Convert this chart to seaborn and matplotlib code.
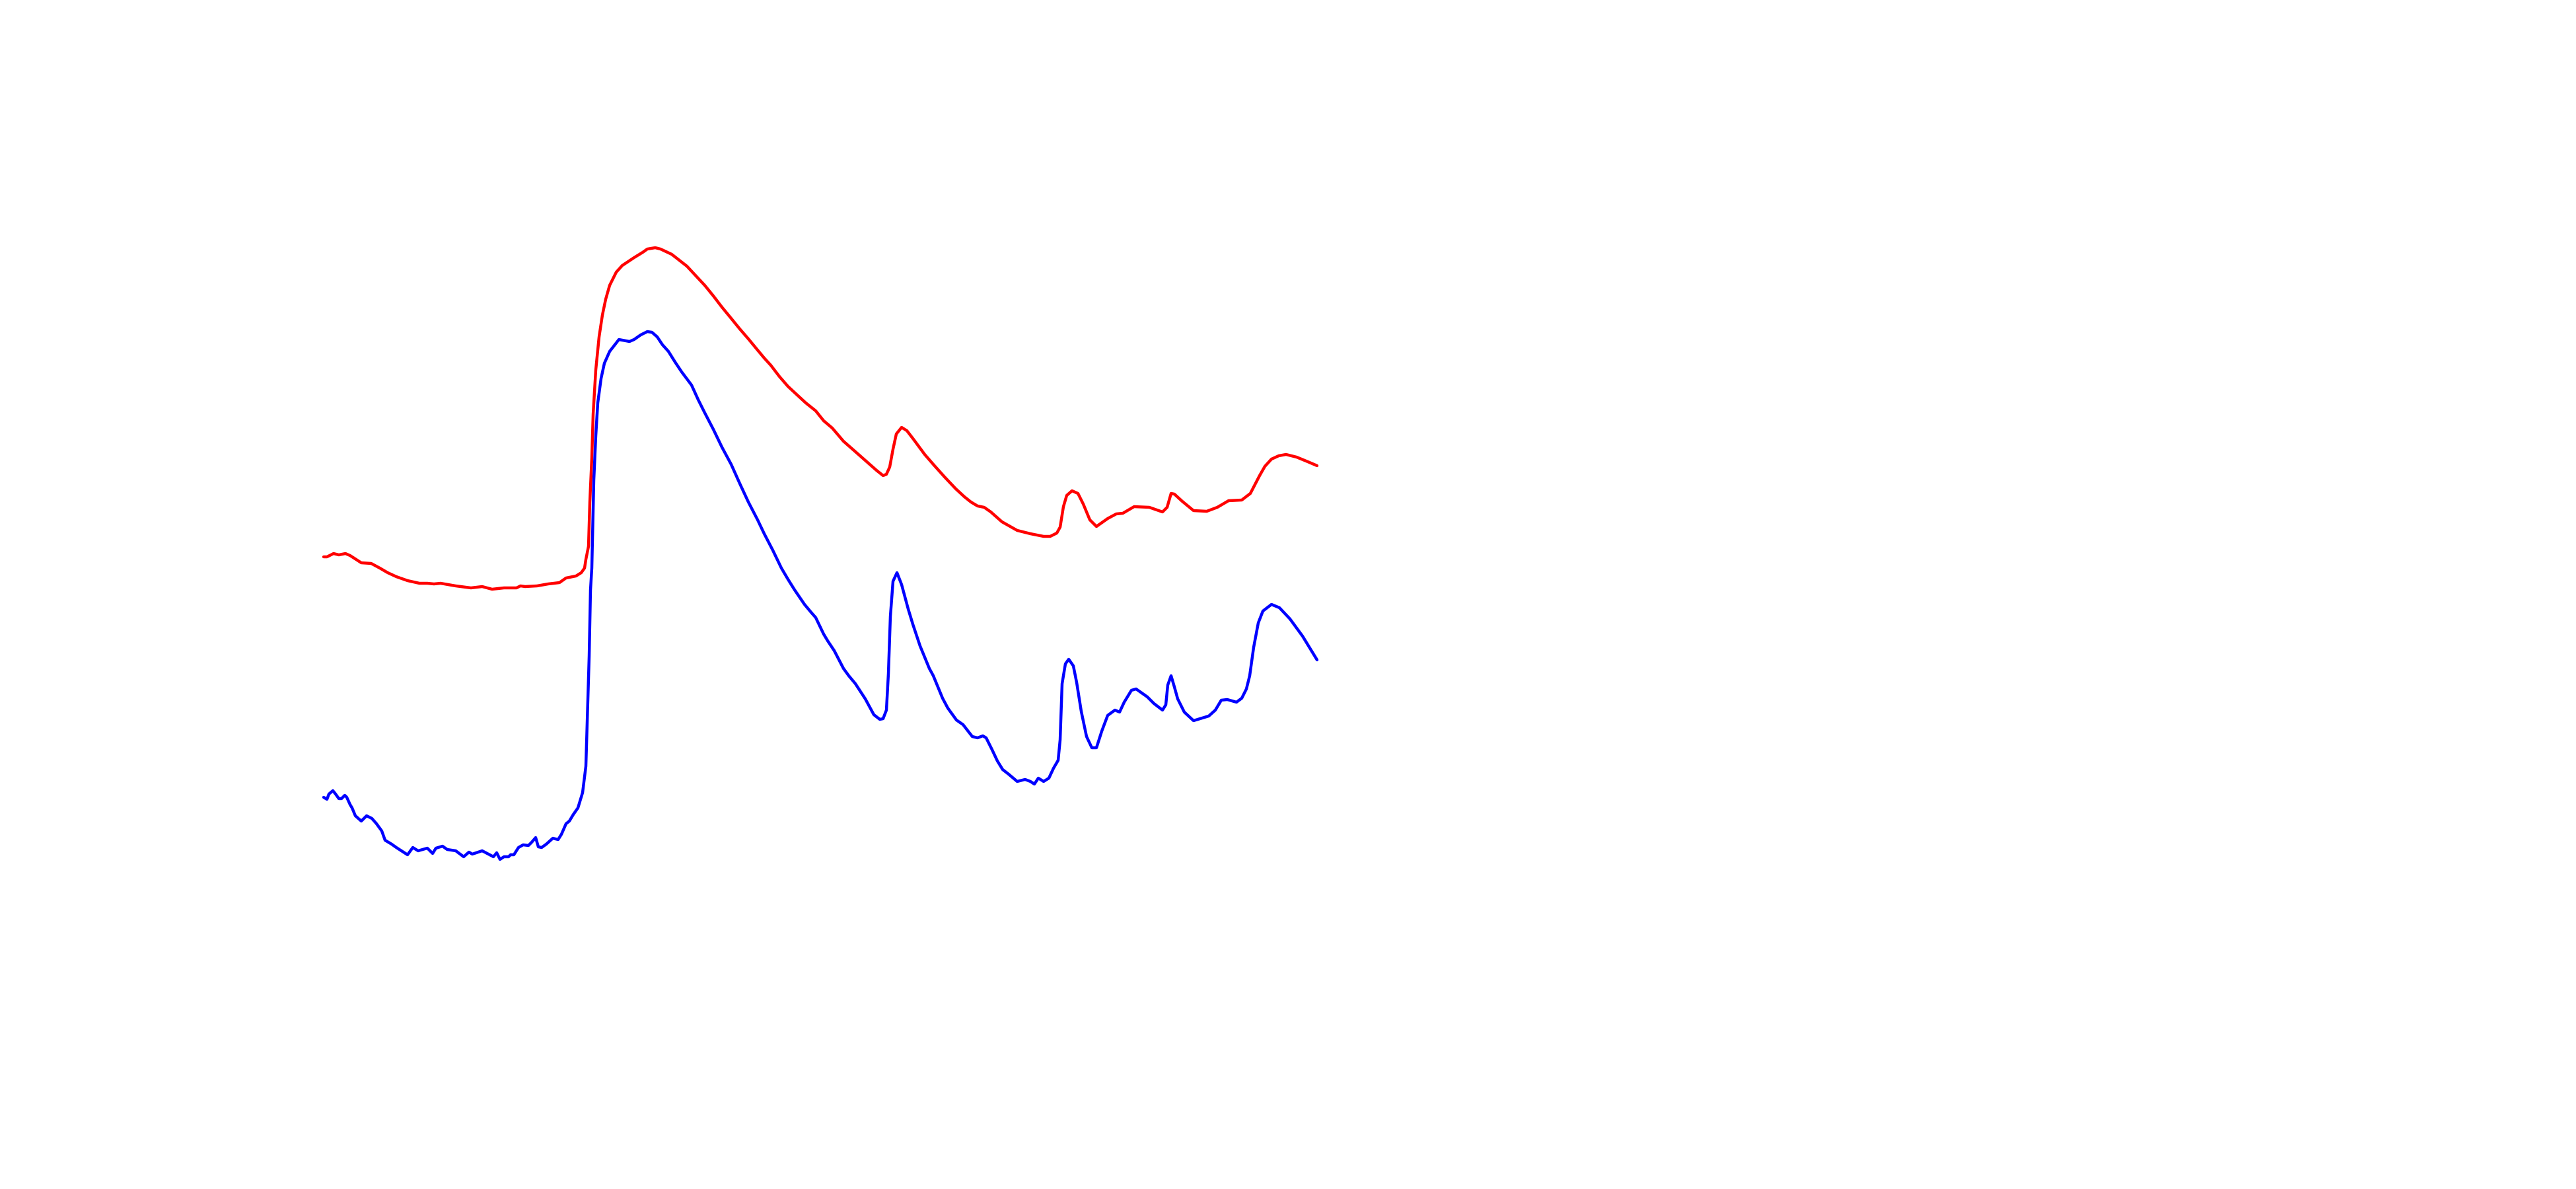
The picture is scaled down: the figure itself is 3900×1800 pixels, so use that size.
import numpy as np
import pandas as pd
import matplotlib
matplotlib.use("Agg")
import matplotlib.pyplot as plt
import seaborn as sns

# Relative energy (eV) and normalized absorbance
red_energy = [0.0, 0.5, 1.5, 2.3, 3.3, 4.0, 5.7, 7.2, 8.5, 9.7, 11.0, 12.7, 14.5, 15.7, 16.7, 17.7,
              20.0, 22.3, 24.0, 25.5, 27.3, 29.2, 29.8, 30.5, 32.3, 34.0, 35.7, 36.7, 38.2, 39.0,
              39.5, 39.7, 40.1, 40.3, 40.6, 40.8, 41.2, 41.7, 42.2, 42.7, 43.3, 44.3, 45.2, 47.0,
              48.3, 49.0, 50.2, 51.0, 52.7, 55.0, 56.3, 57.7, 59.0, 60.3, 61.7, 63.0, 64.3, 65.7,
              66.7, 67.7, 69.0, 70.3, 71.7, 73.0, 74.5, 75.7, 77.0, 78.7, 80.3, 82.0, 83.7, 84.7,
              85.2, 85.7, 86.2, 86.7, 87.5, 88.3, 89.3, 91.0, 92.3, 94.0, 95.7, 97.0, 98.0, 99.0,
              100.0, 101.0, 102.7, 105.0, 107.0, 109.0, 110.0, 111.0, 111.5, 112.0, 112.5, 113.3,
              114.2, 115.0, 116.0, 117.0, 118.7, 120.0, 121.0, 122.7, 125.0, 127.0, 127.7, 128.3,
              128.8, 130.0, 131.7, 133.7, 135.3, 137.0, 139.0, 140.3, 141.7, 142.5, 143.5, 144.6,
              145.7, 147.3, 149.0, 150.4]
red_absorb = [0.557, 0.557, 0.562, 0.560, 0.562, 0.559, 0.548, 0.547, 0.540, 0.533, 0.527, 0.521,
              0.517, 0.517, 0.516, 0.517, 0.513, 0.510, 0.512, 0.508, 0.510, 0.510, 0.513, 0.512,
              0.513, 0.516, 0.518, 0.525, 0.528, 0.533, 0.540, 0.553, 0.573, 0.640, 0.707, 0.773,
              0.840, 0.890, 0.923, 0.947, 0.968, 0.988, 0.998, 1.010, 1.018, 1.023, 1.025, 1.023,
              1.015, 0.997, 0.983, 0.968, 0.952, 0.935, 0.918, 0.902, 0.887, 0.870, 0.858, 0.847,
              0.830, 0.815, 0.802, 0.790, 0.778, 0.763, 0.752, 0.732, 0.718, 0.703, 0.688, 0.680,
              0.682, 0.693, 0.720, 0.743, 0.753, 0.748, 0.735, 0.712, 0.697, 0.678, 0.660, 0.648,
              0.640, 0.634, 0.632, 0.625, 0.610, 0.597, 0.592, 0.588, 0.588, 0.593, 0.602, 0.633,
              0.650, 0.657, 0.653, 0.637, 0.613, 0.603, 0.615, 0.622, 0.623, 0.633, 0.632, 0.625,
              0.632, 0.653, 0.652, 0.641, 0.627, 0.626, 0.632, 0.642, 0.643, 0.653, 0.680, 0.694,
              0.705, 0.710, 0.712, 0.708, 0.701, 0.695]

blue_energy = [0.0, 0.5, 0.8, 1.4, 1.8, 2.3, 2.7, 3.2, 3.5, 4.0, 4.3, 4.8, 5.7, 6.5, 7.3, 8.0, 8.8,
               9.3, 10.3, 11.0, 12.7, 13.5, 14.3, 15.7, 16.5, 17.0, 18.0, 18.7, 20.0, 21.2, 22.0,
               22.5, 24.0, 25.7, 26.2, 26.7, 27.3, 28.0, 28.3, 28.8, 29.5, 30.2, 31.0, 31.5, 32.1,
               32.5, 33.0, 33.7, 34.7, 35.5, 36.0, 36.7, 37.2, 37.8, 38.5, 39.2, 39.7, 39.9, 40.2,
               40.4, 40.6, 40.9, 41.2, 41.5, 42.0, 42.5, 43.3, 44.7, 46.3, 47.0, 48.0, 49.0, 49.7,
               50.5, 51.3, 52.2, 53.2, 54.2, 55.7, 56.7, 57.7, 59.0, 60.3, 61.7, 63.0, 64.3, 65.7,
               66.7, 68.0, 69.3, 70.3, 71.3, 72.8, 73.8, 74.5, 75.7, 76.3, 77.3, 78.7, 79.5, 80.5,
               82.0, 83.3, 84.2, 84.7, 85.2, 85.5, 85.8, 86.2, 86.8, 87.5, 88.5, 89.2, 90.3, 91.7,
               92.3, 93.7, 94.5, 95.8, 96.8, 98.2, 99.0, 99.8, 100.3, 101.2, 102.0, 102.8, 103.7,
               105.0, 106.2, 107.0, 107.6, 108.2, 109.0, 109.8, 110.5, 111.2, 111.5, 111.8, 112.3,
               112.8, 113.5, 114.0, 114.7, 115.5, 116.3, 117.0, 117.8, 118.7, 119.8, 120.5, 121.2,
               122.3, 123.0, 124.7, 125.7, 127.0, 127.5, 127.8, 128.3, 128.8, 129.3, 130.3, 131.7,
               132.7, 134.0, 135.0, 135.9, 136.8, 138.2, 139.0, 139.7, 140.2, 140.8, 141.5, 142.2,
               143.5, 144.7, 146.3, 148.2, 150.4]
blue_absorb = [0.193, 0.190, 0.198, 0.203, 0.198, 0.191, 0.191, 0.196, 0.193, 0.182, 0.177, 0.165,
               0.157, 0.165, 0.161, 0.153, 0.142, 0.128, 0.122, 0.117, 0.106, 0.117, 0.112, 0.116,
               0.108, 0.116, 0.119, 0.114, 0.112, 0.103, 0.110, 0.107, 0.112, 0.103, 0.109, 0.099,
               0.103, 0.103, 0.106, 0.106, 0.117, 0.121, 0.120, 0.125, 0.132, 0.118, 0.117, 0.122,
               0.131, 0.129, 0.137, 0.153, 0.157, 0.167, 0.177, 0.200, 0.240, 0.307, 0.407, 0.507,
               0.540, 0.673, 0.740, 0.790, 0.827, 0.850, 0.868, 0.886, 0.883, 0.886, 0.893, 0.898,
               0.897, 0.890, 0.878, 0.868, 0.852, 0.837, 0.817, 0.795, 0.775, 0.750, 0.723, 0.697,
               0.668, 0.640, 0.613, 0.592, 0.567, 0.540, 0.523, 0.507, 0.485, 0.473, 0.465, 0.440,
               0.430, 0.415, 0.388, 0.377, 0.365, 0.342, 0.318, 0.311, 0.312, 0.325, 0.380, 0.467,
               0.520, 0.533, 0.515, 0.478, 0.455, 0.422, 0.388, 0.377, 0.343, 0.328, 0.310, 0.303,
               0.285, 0.283, 0.286, 0.283, 0.265, 0.248, 0.235, 0.228, 0.217, 0.220, 0.217, 0.213,
               0.222, 0.217, 0.222, 0.237, 0.249, 0.280, 0.365, 0.395, 0.402, 0.392, 0.367, 0.323,
               0.285, 0.268, 0.268, 0.293, 0.317, 0.325, 0.322, 0.337, 0.355, 0.357, 0.345, 0.335,
               0.325, 0.333, 0.363, 0.377, 0.360, 0.342, 0.322, 0.309, 0.312, 0.316, 0.325, 0.340,
               0.341, 0.337, 0.343, 0.357, 0.377, 0.420, 0.457, 0.475, 0.485, 0.480, 0.463, 0.437,
               0.401]

red_df = pd.DataFrame({"energy": red_energy, "absorbance": red_absorb})
blue_df = pd.DataFrame({"energy": blue_energy, "absorbance": blue_absorb})

sns.set_theme(style="white")
fig = plt.figure(figsize=(39, 18), dpi=100)
fig.patch.set_facecolor("white")
ax = fig.add_axes([0, 0, 1, 1])

sns.lineplot(data=red_df, x="energy", y="absorbance", ax=ax, color="#ff0000",
             linewidth=3.2, estimator=None, sort=False)
sns.lineplot(data=blue_df, x="energy", y="absorbance", ax=ax, color="#0000ff",
             linewidth=3.2, estimator=None, sort=False)

ax.set_xlim(-49, 341)
ax.set_ylim(-0.4, 1.4)
ax.set_axis_off()

fig.savefig("out.png", dpi=100, facecolor="white")
